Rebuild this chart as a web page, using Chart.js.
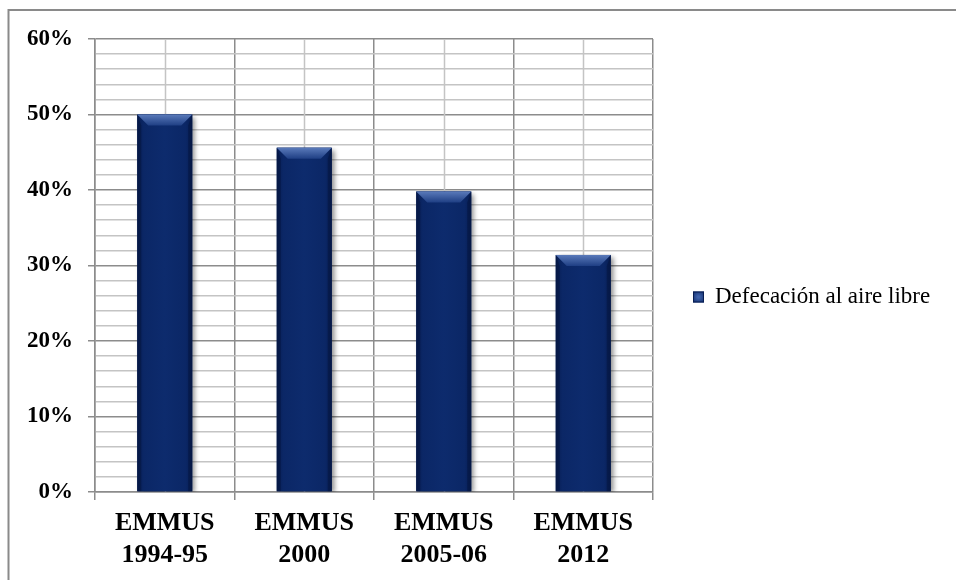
<!DOCTYPE html>
<html>
<head>
<meta charset="utf-8">
<script src="https://cdn.jsdelivr.net/npm/chart.js@4"></script>
<style>
  html, body { margin: 0; padding: 0; background: #fff; }
  #wrap { width: 956px; height: 580px; position: relative; }
</style>
</head>
<body>
<div id="wrap"><canvas id="c" width="956" height="580"></canvas></div>
<script>
// Survey rounds and share of population practising open defecation (%)
const categories = [['EMMUS', '1994-95'], ['EMMUS', '2000'], ['EMMUS', '2005-06'], ['EMMUS', '2012']];
const seriesName = 'Defecación al aire libre';
const values = [50.0, 45.6, 39.8, 31.4];
const yMin = 0, yMax = 60, yStep = 2, yLabelStep = 10;

const NAVY = '#0b2766';
const MAJOR = '#8c8c8c';
const MINOR = '#c4c4c4';
const SERIF = "'Liberation Serif', 'Times New Roman', serif";

// Light gridlines through the middle of each category
const centerLines = {
  id: 'centerLines',
  beforeDatasetsDraw(chart) {
    const { ctx, chartArea, scales } = chart;
    ctx.save();
    ctx.strokeStyle = MINOR;
    ctx.lineWidth = 1.5;
    categories.forEach((_, i) => {
      const x = Math.round(scales.x.getPixelForValue(i)) + 0.5;
      ctx.beginPath();
      ctx.moveTo(x, chartArea.top);
      ctx.lineTo(x, chartArea.bottom);
      ctx.stroke();
    });
    ctx.restore();
  }
};

// Drop shadow behind the bars
const barShadow = {
  id: 'barShadow',
  beforeDatasetDraw(chart) {
    const ctx = chart.ctx;
    ctx.save();
    ctx.shadowColor = 'rgba(0,0,0,0.45)';
    ctx.shadowBlur = 5;
    ctx.shadowOffsetX = 3;
    ctx.shadowOffsetY = 2;
  },
  afterDatasetDraw(chart) {
    chart.ctx.restore();
  }
};

// Bevelled look on each bar: darker sides, lighter slanted top face
const barBevel = {
  id: 'barBevel',
  afterDatasetsDraw(chart) {
    const { ctx } = chart;
    const meta = chart.getDatasetMeta(0);
    meta.data.forEach(bar => {
      const { x, y, width, base } = bar.getProps(['x', 'y', 'width', 'base'], true);
      const l = x - width / 2, r = x + width / 2;
      const h = base - y;
      const b = Math.min(11, h / 2);
      ctx.save();
      const g = ctx.createLinearGradient(l, 0, r, 0);
      g.addColorStop(0, '#071d52');
      g.addColorStop(0.12, '#0b2766');
      g.addColorStop(0.5, '#0d2b6d');
      g.addColorStop(0.88, '#0b2766');
      g.addColorStop(1, '#071d52');
      ctx.fillStyle = g;
      ctx.fillRect(l, y, width, h);
      // top face
      const tg = ctx.createLinearGradient(0, y, 0, y + b);
      tg.addColorStop(0, '#5a7aba');
      tg.addColorStop(1, '#1f3f84');
      ctx.fillStyle = tg;
      ctx.beginPath();
      ctx.moveTo(l, y);
      ctx.lineTo(r, y);
      ctx.lineTo(r - b, y + b);
      ctx.lineTo(l + b, y + b);
      ctx.closePath();
      ctx.fill();
      // side faces
      ctx.fillStyle = 'rgba(3,14,45,0.35)';
      ctx.beginPath();
      ctx.moveTo(l, y);
      ctx.lineTo(l + 4, y + b);
      ctx.lineTo(l + 4, base);
      ctx.lineTo(l, base);
      ctx.closePath();
      ctx.fill();
      ctx.beginPath();
      ctx.moveTo(r, y);
      ctx.lineTo(r - 4, y + b);
      ctx.lineTo(r - 4, base);
      ctx.lineTo(r, base);
      ctx.closePath();
      ctx.fill();
      ctx.restore();
    });
  }
};

// Series key to the right of the plot
const sideLegend = {
  id: 'sideLegend',
  afterDraw(chart) {
    const { ctx, chartArea } = chart;
    const bx = chartArea.right + 40;
    const cy = chart.height / 2 + 7;
    ctx.save();
    const g = ctx.createRadialGradient(bx + 5.5, cy, 1, bx + 5.5, cy, 8);
    g.addColorStop(0, '#3f62aa');
    g.addColorStop(1, '#0b2766');
    ctx.fillStyle = g;
    ctx.fillRect(bx, cy - 5.5, 11, 11);
    ctx.strokeStyle = '#071d52';
    ctx.lineWidth = 1;
    ctx.strokeRect(bx + 0.5, cy - 5, 10, 10);
    ctx.fillStyle = '#000';
    ctx.font = '23px ' + SERIF;
    ctx.textBaseline = 'middle';
    ctx.textAlign = 'left';
    ctx.fillText(chart.data.datasets[0].label, bx + 22, cy);
    ctx.restore();
  }
};

// Frame around the whole chart
const frame = {
  id: 'frame',
  afterDraw(chart) {
    const { ctx } = chart;
    ctx.save();
    ctx.strokeStyle = '#8a8a8a';
    ctx.lineWidth = 2;
    ctx.beginPath();
    ctx.moveTo(8.5, 580);
    ctx.lineTo(8.5, 10);
    ctx.lineTo(956, 10);
    ctx.stroke();
    ctx.restore();
  }
};

new Chart(document.getElementById('c'), {
  type: 'bar',
  data: {
    labels: categories,
    datasets: [{
      label: seriesName,
      data: values,
      backgroundColor: NAVY,
      borderWidth: 0,
      barPercentage: 0.394,
      categoryPercentage: 1.0
    }]
  },
  options: {
    responsive: false,
    animation: false,
    devicePixelRatio: 1,
    layout: { padding: { top: 39, left: 0, right: 303, bottom: 0 } },
    plugins: {
      legend: { display: false },
      tooltip: { enabled: false }
    },
    scales: {
      x: {
        grid: {
          offset: true,
          color: MAJOR,
          lineWidth: 1.5,
          tickLength: 8,
          tickColor: MAJOR
        },
        border: { color: MAJOR, width: 1.5 },
        ticks: {
          color: '#000',
          padding: 8,
          font: { family: SERIF, size: 26, weight: 'bold', lineHeight: 1.2 }
        },
        afterFit(scale) { scale.height = 88; }
      },
      y: {
        min: yMin,
        max: yMax,
        grid: {
          color: ctx => (ctx.tick && ctx.tick.value % yLabelStep === 0) ? MAJOR : MINOR,
          lineWidth: 1.5,
          tickLength: 7,
          tickColor: ctx => (ctx.tick && ctx.tick.value % yLabelStep === 0) ? MAJOR : 'rgba(0,0,0,0)'
        },
        border: { color: MAJOR, width: 1.5 },
        ticks: {
          stepSize: yStep,
          autoSkip: false,
          padding: 15,
          color: '#000',
          font: { family: SERIF, size: 23, weight: 'bold' },
          callback: v => (v % yLabelStep === 0) ? v + '%' : ''
        },
        afterFit(scale) { scale.width = 95; }
      }
    }
  },
  plugins: [centerLines, barShadow, barBevel, sideLegend, frame]
});
</script>
</body>
</html>
